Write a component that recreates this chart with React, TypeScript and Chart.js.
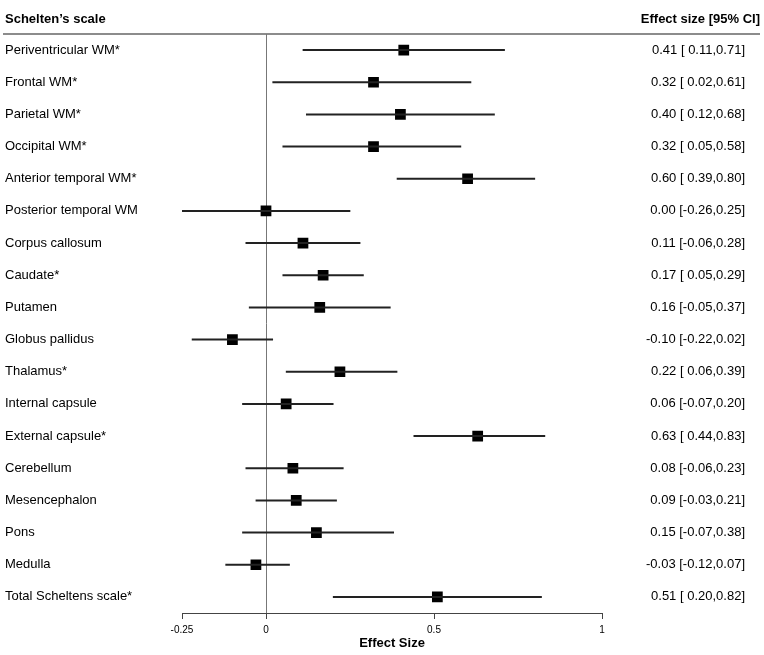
import React, { useEffect, useRef } from "react";
import { Chart, registerables } from "chart.js";

Chart.register(...registerables);

const regions = [
  "Periventricular WM*",
  "Frontal WM*",
  "Parietal WM*",
  "Occipital WM*",
  "Anterior temporal WM*",
  "Posterior temporal WM",
  "Corpus callosum",
  "Caudate*",
  "Putamen",
  "Globus pallidus",
  "Thalamus*",
  "Internal capsule",
  "External capsule*",
  "Cerebellum",
  "Mesencephalon",
  "Pons",
  "Medulla",
  "Total Scheltens scale*",
];
const estimates = [0.41, 0.32, 0.4, 0.32, 0.6, 0.0, 0.11, 0.17, 0.16, -0.1, 0.22, 0.06, 0.63, 0.08, 0.09, 0.15, -0.03, 0.51];
const lower = [0.11, 0.02, 0.12, 0.05, 0.39, -0.26, -0.06, 0.05, -0.05, -0.22, 0.06, -0.07, 0.44, -0.06, -0.03, -0.07, -0.12, 0.2];
const upper = [0.71, 0.61, 0.68, 0.58, 0.8, 0.25, 0.28, 0.29, 0.37, 0.02, 0.39, 0.2, 0.83, 0.23, 0.21, 0.38, 0.07, 0.82];
const xTicks = [-0.25, 0, 0.5, 1];
const leftHeader = "Schelten\u2019s scale";
const rightHeader = "Effect size [95% CI]";
const xTitle = "Effect Size";

const fmt = (v: number) => (v < 0 ? "-" : " ") + Math.abs(v).toFixed(2);
const fmtEst = (v: number) => (v < 0 ? "-" : "") + Math.abs(v).toFixed(2);

const FONT = "Arial, 'Liberation Sans', Helvetica, sans-serif";

const textPlugin = {
  id: "forestText",
  beforeDatasetsDraw(chart: any) {
    const { ctx, chartArea, scales } = chart;
    const xs = scales.x;
    ctx.save();
    ctx.strokeStyle = "#666";
    ctx.lineWidth = 1.5;
    ctx.beginPath();
    ctx.moveTo(3, chartArea.top);
    ctx.lineTo(760, chartArea.top);
    ctx.stroke();
    const x0 = xs.getPixelForValue(0);
    ctx.strokeStyle = "#777";
    ctx.lineWidth = 1;
    ctx.beginPath();
    ctx.moveTo(Math.round(x0) + 0.5, chartArea.top);
    ctx.lineTo(Math.round(x0) + 0.5, chartArea.bottom);
    ctx.stroke();
    ctx.restore();
  },
  afterDraw(chart: any) {
    const { ctx, scales } = chart;
    const ys = scales.y;
    ctx.save();
    ctx.fillStyle = "#000";
    ctx.textBaseline = "middle";
    ctx.font = `bold 13px ${FONT}`;
    ctx.textAlign = "left";
    ctx.fillText(leftHeader, 5, 19);
    ctx.textAlign = "right";
    ctx.fillText(rightHeader, 760, 19);
    ctx.font = `13px ${FONT}`;
    regions.forEach((r, i) => {
      const y = ys.getPixelForValue(i);
      ctx.textAlign = "left";
      ctx.fillText(r, 5, y);
      ctx.textAlign = "right";
      ctx.fillText(`${fmtEst(estimates[i])} [${fmt(lower[i])},${fmt(upper[i]).trim()}]`, 745, y);
    });
    ctx.restore();
  },
};

export default function App() {
  const ref = useRef<HTMLCanvasElement | null>(null);
  useEffect(() => {
    if (!ref.current) return;
    const chart = new Chart(ref.current, {
      type: "bar",
      data: {
        labels: regions,
        datasets: [
          {
            type: "bar",
            indexAxis: "y",
            data: regions.map((_, i) => [lower[i], upper[i]]),
            backgroundColor: "#222",
            barThickness: 1.3,
            borderWidth: 0,
          } as any,
          {
            type: "scatter",
            data: regions.map((_, i) => ({ x: estimates[i], y: i })),
            pointStyle: "rect",
            pointRadius: 7.6,
            pointHoverRadius: 7.6,
            backgroundColor: "#000",
            borderWidth: 0,
            showLine: false,
          } as any,
        ],
      },
      options: {
        animation: false,
        responsive: false,
        maintainAspectRatio: false,
        layout: { padding: { left: 182, right: 162, top: 34, bottom: 0 } },
        plugins: { legend: { display: false }, tooltip: { enabled: false } },
        scales: {
          x: {
            type: "linear",
            min: -0.25,
            max: 1,
            offset: false,
            afterBuildTicks: (s: any) => {
              s.ticks = xTicks.map((v) => ({ value: v }));
            },
            afterFit: (s: any) => {
              s.height = 42;
            },
            grid: {
              display: true,
              offset: false,
              drawOnChartArea: false,
              drawTicks: true,
              tickLength: 6,
              tickColor: "#444",
              tickWidth: 1,
            },
            border: { display: true, color: "#444", width: 1 },
            ticks: {
              color: "#000",
              font: { family: FONT, size: 10 },
              padding: 5,
              maxRotation: 0,
              autoSkip: false,
              callback: (v: any) => String(v),
            },
            title: {
              display: true,
              text: xTitle,
              color: "#000",
              font: { family: FONT, size: 13, weight: "bold" },
              padding: { top: 0, bottom: 4 },
            },
          },
          y: {
            type: "category",
            display: false,
            offset: true,
            grid: { display: false, offset: true },
          },
        },
      } as any,
      plugins: [textPlugin],
    });
    return () => chart.destroy();
  }, []);
  return (
    <div style={{ position: "fixed", left: 0, top: 0, width: 764, height: 655, background: "#fff" }}>
      <canvas ref={ref} width={764} height={655} style={{ width: 764, height: 655, display: "block" }} />
    </div>
  );
}
